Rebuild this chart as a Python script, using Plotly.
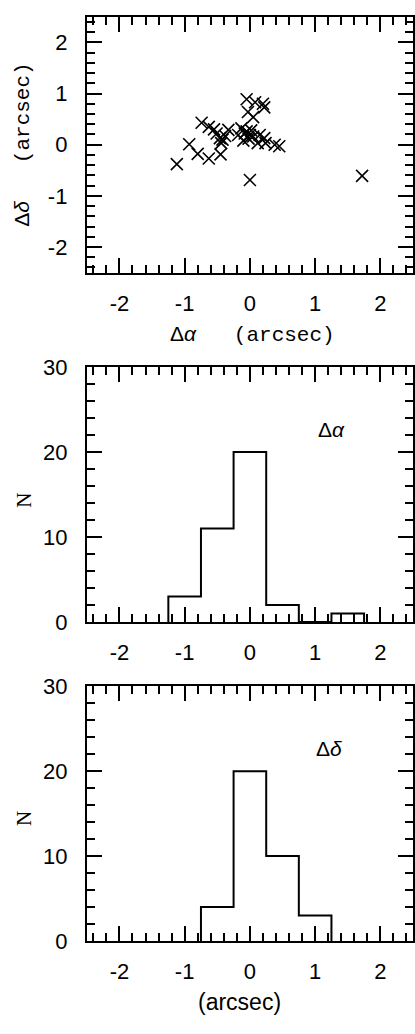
import plotly.graph_objects as go

# ---- data ----
d_alpha = [-1.12, 1.72, 0.00, -0.93, -0.80, -0.63, -0.45, -0.74, -0.63, -0.51,
           -0.46, -0.44, -0.33, -0.05, 0.08, 0.22, -0.03, 0.05, -0.13, -0.05,
           0.00, -0.18, -0.10, 0.05, 0.15, 0.22, 0.24, 0.38, 0.45, 0.12,
           0.20, -0.42, -0.38, -0.55, -0.08, 0.02, -0.02]
d_delta = [-0.38, -0.61, -0.69, 0.01, -0.18, -0.27, -0.19, 0.43, 0.35, 0.22,
           0.13, 0.03, 0.29, 0.89, 0.83, 0.73, 0.64, 0.54, 0.32, 0.26,
           0.19, 0.19, 0.08, 0.16, 0.19, 0.13, 0.03, 0.00, -0.03, 0.03,
           0.80, 0.10, 0.17, 0.30, 0.22, 0.28, 0.12]

alpha_edges = [-1.25, -0.75, -0.25, 0.25, 0.75, 1.25, 1.75]
alpha_counts = [3, 11, 20, 2, 0, 1]
delta_edges = [-0.75, -0.25, 0.25, 0.75, 1.25]
delta_counts = [4, 20, 10, 3]

pos_ticks = [-2, -1, 0, 1, 2]
pos_ticktext = ["-2", "-1", "0", "1", "2"]
n_ticks = [0, 10, 20, 30]
n_ticktext = ["0", "10", "20", "30"]
W, H = 415, 1034


def step_xy(edges, counts):
    xs = [edges[0]] + list(edges[:-1]) + [edges[-1]]
    ys = [0] + list(counts) + [0]
    return xs, ys


fig = go.Figure()
fig.add_trace(go.Scatter(x=d_alpha, y=d_delta, mode="markers", xaxis="x", yaxis="y",
                         marker=dict(symbol="x-thin", size=12, color="black",
                                     line=dict(width=1.6, color="black")),
                         showlegend=False, hoverinfo="skip"))
ax, ay = step_xy(alpha_edges, alpha_counts)
fig.add_trace(go.Scatter(x=ax, y=ay, mode="lines", line_shape="hv", xaxis="x2", yaxis="y2",
                         line=dict(color="black", width=2), showlegend=False))
dx, dy = step_xy(delta_edges, delta_counts)
fig.add_trace(go.Scatter(x=dx, y=dy, mode="lines", line_shape="hv", xaxis="x3", yaxis="y3",
                         line=dict(color="black", width=2), showlegend=False))

L, R = 87, 414
panels = [(5, 267), (364, 625), (691, 952)]
tickfont = dict(family="Liberation Sans, Arial", size=22, color="black")


def xaxis_cfg(anchor):
    return dict(domain=[L / W, R / W], anchor=anchor, range=[-2.5, 2.5],
                tickvals=pos_ticks, ticktext=pos_ticktext,
                ticks="inside", ticklen=15, tickwidth=1.5, tickcolor="black",
                showline=True, linecolor="black", linewidth=2, mirror="allticks",
                showgrid=False, zeroline=False, tickfont=tickfont,
                ticklabelstandoff=10,
                minor=dict(dtick=0.2, tick0=0, ticks="inside", ticklen=8,
                           tickwidth=1.5, tickcolor="black", showgrid=False))


def yaxis_cfg(anchor, t, b, rng, tv, tt, mdt):
    return dict(domain=[1 - b / H, 1 - t / H], anchor=anchor, range=rng,
                tickvals=tv, ticktext=tt,
                ticks="inside", ticklen=15, tickwidth=1.5, tickcolor="black",
                showline=True, linecolor="black", linewidth=2, mirror="allticks",
                showgrid=False, zeroline=False, tickfont=tickfont,
                ticklabelstandoff=13,
                minor=dict(dtick=mdt, tick0=0, ticks="inside", ticklen=8,
                           tickwidth=1.5, tickcolor="black", showgrid=False))


fig.update_layout(
    width=W, height=H, margin=dict(l=0, r=0, t=0, b=0),
    paper_bgcolor="white", plot_bgcolor="white",
    xaxis=xaxis_cfg("y"),
    yaxis=yaxis_cfg("x", *panels[0], [-2.5, 2.5], pos_ticks, pos_ticktext, 0.2),
    xaxis2=xaxis_cfg("y2"),
    yaxis2=yaxis_cfg("x2", *panels[1], [0, 30], n_ticks, n_ticktext, 2),
    xaxis3=xaxis_cfg("y3"),
    yaxis3=yaxis_cfg("x3", *panels[2], [0, 30], n_ticks, n_ticktext, 2),
)

sans = "Liberation Sans, Arial"
mono = "Liberation Mono, Courier New"
serif = "Liberation Serif, Times New Roman"


def ann(px, py, text, size=20, family=sans, angle=0):
    fig.add_annotation(x=px / W, y=1 - py / H, xref="paper", yref="paper", text=text,
                       showarrow=False, textangle=angle, xanchor="center", yanchor="middle",
                       font=dict(family=family, size=size, color="black"))


mixed_a = ('<span style="font-family:Liberation Sans">Δ<i>α</i></span>'
           '&nbsp;&nbsp;&nbsp;(arcsec)')
mixed_d = ('<span style="font-family:Liberation Sans">Δ<i>δ</i></span>'
           '&nbsp;&nbsp;&nbsp;(arcsec)')
ann(253, 330, mixed_a, size=21, family=mono)
ann(23, 136, mixed_d, size=21, family=mono, angle=-90)
ann(24, 500, "N", size=21, family=serif, angle=-90)
ann(24, 826, "N", size=21, family=serif, angle=-90)
ann(332, 428, "Δ<i>α</i>", size=21)
ann(330, 755, "Δ<i>δ</i>", size=21)
ann(240, 1015, "(arcsec)", size=23)

fig.write_html("out.html")
